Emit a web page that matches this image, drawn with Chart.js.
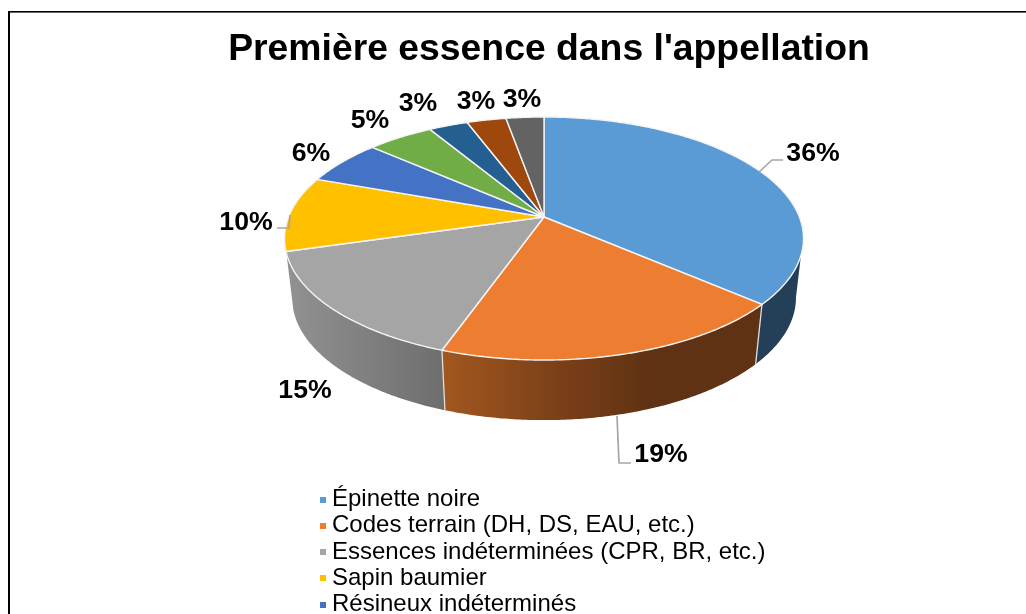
<!DOCTYPE html>
<html><head><meta charset="utf-8">
<style>html,body{margin:0;padding:0;background:#fff;overflow:hidden}#w{width:1026px;height:614px;position:relative}</style>
<script src="https://cdn.jsdelivr.net/npm/chart.js@4/dist/chart.umd.min.js"></script>
</head><body><div id="w"><canvas id="c" width="1026" height="614"></canvas></div>
<script>
const titleText = "Première essence dans l'appellation";
const categories = ["Épinette noire","Codes terrain (DH, DS, EAU, etc.)","Essences indéterminées (CPR, BR, etc.)","Sapin baumier","Résineux indéterminés","","","",""];
const values = [36.4,19.0,15.1,10.0,6.0,4.9,2.9,2.9,2.8];
const topColors = ["#5B9BD5","#ED7D31","#A5A5A5","#FFC000","#4472C4","#70AD47","#255E91","#9E480E","#636363"];

const P = {cx:544, topY:217, botY:276, B:255.4, A:117.7, Bb:248, Ab:118.6, c:-0.177};
const labelXY = [[813,152],[661,453],[305,389],[246,221],[311,152],[370,119],[418,102],[476,100],[522,98]];
const leaders = [
  [[759,172],[772,160],[783,160]],
  [[617,416],[619,463],[631,463]],
  [[290,215],[289,228],[277,228]]
];
function rim(th, bottom){
  const u=Math.sin(th), v=-Math.cos(th), d=1+P.c*v;
  return bottom ? [P.cx+P.Bb*u/d, P.botY+P.Ab*v/d] : [P.cx+P.B*u/d, P.topY+P.A*v/d];
}
function pathRim(ctx, a, b, bottom, first){
  const n=Math.max(2,Math.ceil(Math.abs(b-a)/0.01));
  for(let i=0;i<=n;i++){
    const p=rim(a+(b-a)*i/n,bottom);
    if(i===0&&first) ctx.moveTo(p[0],p[1]); else ctx.lineTo(p[0],p[1]);
  }
}
const deg=Math.PI/180;
const wallFill = (ctx,i)=>{
  if(i===0){ return "#244058"; }
  if(i===1){
    const h=ctx.createLinearGradient(443,0,650,0);
    h.addColorStop(0,"#A2571F");h.addColorStop(.55,"#7C4018");h.addColorStop(1,"#5F3213");return h;
  }
  if(i===2){
    const h=ctx.createLinearGradient(290,0,443,0);
    h.addColorStop(0,"#919191");h.addColorStop(1,"#6E6E6E");return h;
  }
  return "#888";
};
function swatch(color){
  const s=document.createElement('canvas'); s.width=13; s.height=6;
  const g=s.getContext('2d'); g.fillStyle=color; g.fillRect(7,0,6,6);
  return s;
}
const pie3d = {
  id:'pie3d',
  afterLayout(chart){
    const t=chart.titleBlock, l=chart.legend;
    const tw=t.right-t.left; t.left=549-tw/2; t.right=549+tw/2; t.top=27; t.bottom=t.top+t.height;
    const lw=l.width, lh=l.height;
    l.left=316.7; l.right=316.7+lw; l.top=485.2; l.bottom=485.2+lh;
  },
  beforeDraw(chart){
    const ctx=chart.ctx; ctx.save();
    ctx.fillStyle="#000";
    ctx.fillRect(8,11,1018,1.6);
    ctx.fillRect(8,11,2,603);
    ctx.restore();
  },
  beforeDatasetsDraw(chart){
    const ctx=chart.ctx, arcs=chart.getDatasetMeta(0).data;
    ctx.save();
    const TA=108*deg, TB=253*deg, BA=100*deg, BB=260*deg;
    const clampI=(s,e,a,b)=>[Math.max(s,a),Math.min(e,b)];
    arcs.forEach((arc,i)=>{
      const s=arc.startAngle+Math.PI/2, e=arc.endAngle+Math.PI/2;
      const [ts,te]=clampI(s,e,TA,TB), [bs,be]=clampI(s,e,BA,BB);
      if(te<=ts) return;
      ctx.beginPath();
      pathRim(ctx,ts,te,false,true);
      pathRim(ctx,be,bs,true,false);
      ctx.closePath();
      ctx.fillStyle=wallFill(ctx,i);
      ctx.fill();
    });
    ctx.strokeStyle="#DDD"; ctx.lineWidth=1.3;
    arcs.forEach((arc)=>{
      const e=arc.endAngle+Math.PI/2;
      if(e>TA&&e<TB){
        const a=rim(e,false), b=rim(e,true);
        ctx.beginPath();ctx.moveTo(a[0],a[1]);ctx.lineTo(b[0],b[1]);ctx.stroke();
      }
    });
    arcs.forEach((arc,i)=>{
      const s=arc.startAngle+Math.PI/2, e=arc.endAngle+Math.PI/2;
      ctx.beginPath();
      ctx.moveTo(P.cx,P.topY);
      pathRim(ctx,s,e,false,false);
      ctx.closePath();
      ctx.fillStyle=arc.options.backgroundColor;
      ctx.fill();
      ctx.strokeStyle="#F4F4F4"; ctx.lineWidth=1.4; ctx.lineJoin="round";
      ctx.stroke();
    });
    ctx.restore();
    return false;
  },
  afterDraw(chart){
    const ctx=chart.ctx;
    ctx.save();
    ctx.strokeStyle="#A6A6A6"; ctx.lineWidth=1.7;
    leaders.forEach(l=>{ctx.beginPath();l.forEach((p,i)=>i?ctx.lineTo(p[0],p[1]):ctx.moveTo(p[0],p[1]));ctx.stroke();});
    ctx.fillStyle="#000"; ctx.font="bold 26.67px 'Liberation Sans', Arial, sans-serif";
    ctx.textAlign="center"; ctx.textBaseline="middle";
    values.forEach((v,i)=>ctx.fillText(Math.round(v)+"%",labelXY[i][0],labelXY[i][1]+2));
    ctx.restore();
  }
};
new Chart(document.getElementById('c'),{
  type:'pie',
  data:{labels:categories,datasets:[{data:values,backgroundColor:topColors,borderColor:"#fff",borderWidth:1}]},
  options:{
    responsive:false,animation:false,
    layout:{padding:0},
    plugins:{
      tooltip:{enabled:false},
      title:{display:true,text:titleText,color:"#000",font:{family:"'Liberation Sans', Arial, sans-serif",size:37.33,weight:'bold'},padding:0},
      legend:{position:'right',align:'start',
        labels:{color:"#000",font:{family:"'Liberation Sans', Arial, sans-serif",size:24},usePointStyle:true,pointStyleWidth:1,boxHeight:6,padding:2.3,
          generateLabels(chart){
            const items=Chart.overrides.pie.plugins.legend.labels.generateLabels(chart);
            items.forEach(it=>{it.pointStyle=swatch(it.fillStyle);});
            return items;
          },
          filter:item=>item.text!=="" }}
    }
  },
  plugins:[pie3d]
});
</script></body></html>
